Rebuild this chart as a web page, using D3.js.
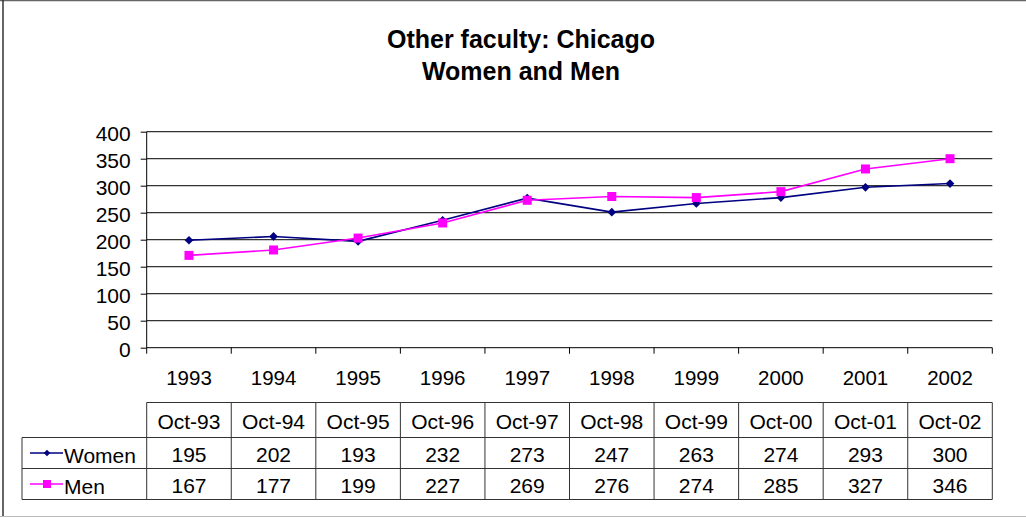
<!DOCTYPE html>
<html><head><meta charset="utf-8">
<script src="https://cdn.jsdelivr.net/npm/d3@7"></script>
<style>html,body{margin:0;padding:0;background:#fff;}svg{display:block;font-family:"Liberation Sans",Arial,sans-serif;}</style>
</head><body>
<svg id="chart" width="1026" height="518"></svg>
<script>
const titleLines = ["Other faculty: Chicago", "Women and Men"];
const years = ["1993","1994","1995","1996","1997","1998","1999","2000","2001","2002"];
const months = ["Oct-93","Oct-94","Oct-95","Oct-96","Oct-97","Oct-98","Oct-99","Oct-00","Oct-01","Oct-02"];
const womenTable = [195,202,193,232,273,247,263,274,293,300];
const menTable = [167,177,199,227,269,276,274,285,327,346];
// values as plotted in the chart
const womenPlotted = [199,206,197,236,277,251,267,278,297,304];
const menPlotted = [171,181,203,231,273,280,278,289,331,350];
const yTicks = [0,50,100,150,200,250,300,350,400];

const FS = 21;
const svg = d3.select("#chart");
const L = 146.7, R = 992.3, T = 131.7, B = 347.7;
const x = d3.scaleBand().domain(years).range([L, R]);
const y = d3.scaleLinear().domain([0, 400]).range([B, T]);

// outer frame
svg.append("line").attr("x1",0).attr("x2",1026).attr("y1",0.5).attr("y2",0.5).attr("stroke","#666").attr("stroke-width",1.5);
svg.append("line").attr("x1",3).attr("x2",3).attr("y1",0).attr("y2",516).attr("stroke","#333").attr("stroke-width",1.5);
svg.append("line").attr("x1",0).attr("x2",1026).attr("y1",516.5).attr("y2",516.5).attr("stroke","#bbb").attr("stroke-width",1);

// title
svg.append("g").selectAll("text").data(titleLines).join("text")
  .attr("x", 521).attr("y", (d,i) => 48 + i*32)
  .attr("text-anchor","middle").attr("font-size",25).attr("font-weight","bold").attr("fill","#000")
  .text(d => d);

// gridlines
svg.append("g").selectAll("line").data(yTicks.filter(d => d > 0)).join("line")
  .attr("x1", L).attr("x2", R).attr("y1", d => y(d)).attr("y2", d => y(d))
  .attr("stroke","#333").attr("stroke-width",1.2);

// y axis
const yAxis = svg.append("g").attr("transform",`translate(${L},0)`)
  .call(d3.axisLeft(y).tickValues(yTicks).tickSize(6).tickPadding(10));
yAxis.select(".domain").attr("stroke","#000").attr("d", `M0,${T}V${B+6}`);
yAxis.selectAll(".tick line").attr("stroke","#000");
yAxis.selectAll("text").attr("font-size",FS).attr("fill","#000").attr("font-family","Liberation Sans, Arial, sans-serif").attr("dy","0.4em");

// x axis
const xAxis = svg.append("g").attr("transform",`translate(0,${B})`)
  .call(d3.axisBottom(x).tickSize(0).tickPadding(23));
xAxis.select(".domain").attr("stroke","#000").attr("d", `M${L},0H${R}`);
xAxis.selectAll("text").attr("font-size",20.5).attr("fill","#000").attr("font-family","Liberation Sans, Arial, sans-serif");
// boundary ticks
svg.append("g").selectAll("line").data(years.slice(1).concat(["end"])).join("line")
  .attr("x1", d => d === "end" ? R : x(d)).attr("x2", d => d === "end" ? R : x(d))
  .attr("y1", B).attr("y2", B + 6).attr("stroke","#000");

// lines
const cx = d => x(d) + x.bandwidth()/2;
const line = d3.line().x(d => cx(d.year)).y(d => y(d.v));
const womenData = years.map((yr,i) => ({year: yr, v: womenPlotted[i]}));
const menData = years.map((yr,i) => ({year: yr, v: menPlotted[i]}));
svg.append("path").datum(womenData).attr("d", line).attr("fill","none").attr("stroke","#000080").attr("stroke-width",1.6);
svg.append("path").datum(menData).attr("d", line).attr("fill","none").attr("stroke","#FF00FF").attr("stroke-width",1.6);
const diamond = d3.symbol().type(d3.symbolDiamond2).size(48);
svg.append("g").selectAll("path").data(womenData).join("path")
  .attr("d", diamond).attr("transform", d => `translate(${cx(d.year)},${y(d.v)})`).attr("fill","#000080");
svg.append("g").selectAll("rect").data(menData).join("rect")
  .attr("x", d => cx(d.year) - 4.5).attr("y", d => y(d.v) - 4.5).attr("width", 9).attr("height", 9).attr("fill","#FF00FF");

// data table
const rowH = [402.5, 437.5, 468.5, 499.5];
const legL = 22;
const tbl = svg.append("g");
const gridStroke = "#333";
tbl.append("line").attr("x1", L).attr("x2", R).attr("y1", rowH[0]).attr("y2", rowH[0]).attr("stroke", gridStroke);
[1,2,3].forEach(i => tbl.append("line").attr("x1", legL).attr("x2", R).attr("y1", rowH[i]).attr("y2", rowH[i]).attr("stroke", gridStroke));
tbl.append("line").attr("x1", legL).attr("x2", legL).attr("y1", rowH[1]).attr("y2", rowH[3]).attr("stroke", gridStroke);
tbl.selectAll("line.v").data(years.concat(["end"])).join("line").attr("class","v")
  .attr("x1", d => d === "end" ? R : x(d)).attr("x2", d => d === "end" ? R : x(d))
  .attr("y1", rowH[0]).attr("y2", rowH[3]).attr("stroke", gridStroke);

const cellText = (arr, rowTop, rowBot) => tbl.append("g").selectAll("text").data(arr).join("text")
  .attr("x", (d,i) => cx(years[i])).attr("y", (rowTop + rowBot)/2 + 1).attr("dy","0.36em")
  .attr("text-anchor","middle").attr("font-size",FS).attr("fill","#000").text(d => d);
cellText(months, rowH[0], rowH[1]);
cellText(womenTable, rowH[1], rowH[2]);
cellText(menTable, rowH[2], rowH[3]);

// legend keys
const wy = (rowH[1]+rowH[2])/2, my = (rowH[2]+rowH[3])/2;
tbl.append("line").attr("x1",30).attr("x2",63).attr("y1",wy).attr("y2",wy).attr("stroke","#000080").attr("stroke-width",1.5);
tbl.append("path").attr("d", d3.symbol().type(d3.symbolDiamond2).size(28)).attr("transform",`translate(47,${wy})`).attr("fill","#000080");
tbl.append("text").attr("x",64).attr("y",wy + 2).attr("dy","0.36em").attr("font-size",FS).text("Women");
tbl.append("line").attr("x1",30).attr("x2",63).attr("y1",my).attr("y2",my).attr("stroke","#FF00FF").attr("stroke-width",1.5);
tbl.append("rect").attr("x",43).attr("y",my-4).attr("width",8).attr("height",8).attr("fill","#FF00FF");
tbl.append("text").attr("x",64).attr("y",my + 2).attr("dy","0.36em").attr("font-size",FS).text("Men");
</script>
</body></html>
